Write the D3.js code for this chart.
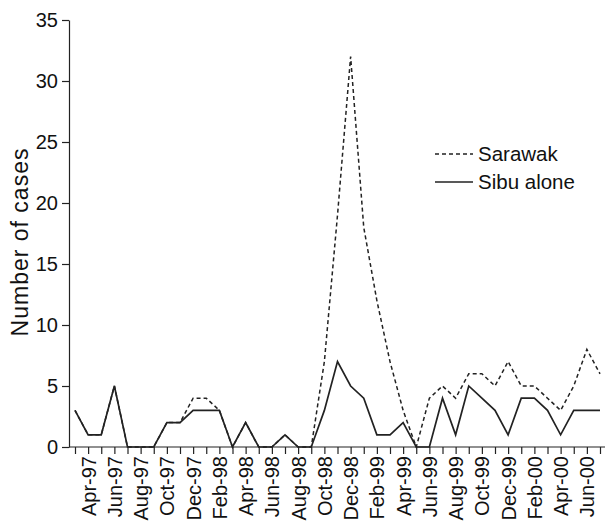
<!DOCTYPE html>
<html>
  <head>
    <meta charset="utf-8">
    <script src="https://d3js.org/d3.v7.min.js"></script>
    <style>
    body { margin: 0; background: #fff; }
    text { font-family: 'Liberation Sans', Arial, sans-serif; fill: #111; }
    .axis path, .axis line { stroke: #222; stroke-width: 1.2; }
    .axis text { font-size: 20px; }
    </style>
  </head>
  <body>
    <script>

      // data
      var months = ["Mar-97","Apr-97","May-97","Jun-97","Jul-97","Aug-97","Sep-97","Oct-97","Nov-97","Dec-97",
                    "Jan-98","Feb-98","Mar-98","Apr-98","May-98","Jun-98","Jul-98","Aug-98","Sep-98","Oct-98",
                    "Nov-98","Dec-98","Jan-99","Feb-99","Mar-99","Apr-99","May-99","Jun-99","Jul-99","Aug-99",
                    "Sep-99","Oct-99","Nov-99","Dec-99","Jan-00","Feb-00","Mar-00","Apr-00","May-00","Jun-00","Jul-00"];
      var sarawak = [3,1,1,5,0,0,0,2,2,4, 4,3,0,2,0,0,1,0,0,7, 19,32,18,12,7,3,0,4,5,4, 6,6,5,7,5,5,4,3,5,8,6];
      var sibu    = [3,1,1,5,0,0,0,2,2,3, 3,3,0,2,0,0,1,0,0,3, 7,5,4,1,1,2,0,0,4,1, 5,4,3,1,4,4,3,1,3,3,3];
      var yTicks = [0,5,10,15,20,25,30,35];

      // setup
      var w = 609, h = 525;
      var svg = d3.select("body").append("svg")
          .attr("width", w)
          .attr("height", h);

      var xScale = d3.scalePoint().domain(months).range([75, 600]);
      var yScale = d3.scaleLinear().domain([0, 35]).range([447, 20]);

      // y axis
      svg.append("g")
          .attr("class", "axis")
          .attr("transform", "translate(69,0)")
          .call(d3.axisLeft(yScale).tickValues(yTicks).tickSize(7).tickSizeOuter(0).tickPadding(4));

      // x axis
      var xAxis = svg.append("g")
          .attr("class", "axis")
          .attr("transform", "translate(0,447)")
          .call(d3.axisBottom(xScale).tickSize(7).tickSizeOuter(0)
            .tickFormat(function(d, i) { return i % 2 == 1 ? d : ""; }));
      xAxis.select(".domain").attr("d", "M69,0H605");
      xAxis.selectAll(".tick text")
          .attr("transform", "rotate(-90)")
          .attr("x", -9)
          .attr("y", 0)
          .attr("dy", "0.35em")
          .style("text-anchor", "end");

      // y label
      svg.append("text")
          .attr("transform", "translate(28,242) rotate(-90)")
          .style("text-anchor", "middle")
          .style("font-size", "23px")
          .style("letter-spacing", "1px")
          .text("Number of cases");

      // lines
      var line = function(vals) {
        return d3.line()
          .x(function(d, i) { return xScale(months[i]); })
          .y(function(d) { return yScale(d); })(vals);
      };
      svg.append("path")
          .attr("d", line(sarawak))
          .attr("fill", "none")
          .attr("stroke", "#222")
          .attr("stroke-width", 1.5)
          .attr("stroke-dasharray", "4,3");
      svg.append("path")
          .attr("d", line(sibu))
          .attr("fill", "none")
          .attr("stroke", "#222")
          .attr("stroke-width", 1.7);

      // legend
      var legend = svg.append("g");
      legend.append("line")
          .attr("x1", 435).attr("x2", 473).attr("y1", 154).attr("y2", 154)
          .attr("stroke", "#222").attr("stroke-width", 1.5).attr("stroke-dasharray", "4,3");
      legend.append("text").attr("x", 478).attr("y", 161).style("font-size", "20.5px").text("Sarawak");
      legend.append("line")
          .attr("x1", 435).attr("x2", 473).attr("y1", 182).attr("y2", 182)
          .attr("stroke", "#222").attr("stroke-width", 1.7);
      legend.append("text").attr("x", 478).attr("y", 189).style("font-size", "20.5px").text("Sibu alone");

    </script>
  </body>
</html>
